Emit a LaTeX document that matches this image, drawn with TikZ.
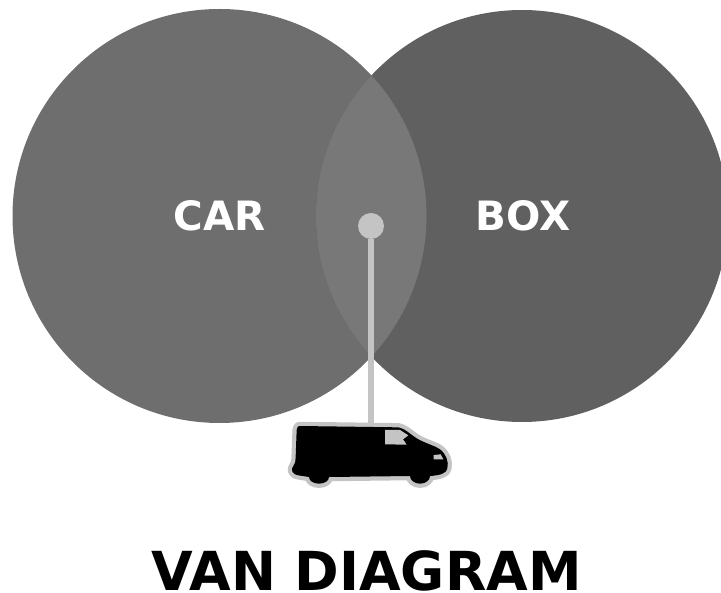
\documentclass[tikz,border=0pt]{standalone}
\usepackage{fontspec}
\setmainfont{DejaVu Sans}
\usepackage{tikz}
\usetikzlibrary{positioning}
\definecolor{carfill}{HTML}{6E6E6E}
\definecolor{boxfill}{HTML}{606060}
\definecolor{overlapfill}{HTML}{787878}
\definecolor{markergray}{HTML}{C4C4C4}

\begin{document}
\begin{tikzpicture}[
    setlabel/.style={font=\fontsize{23}{26}\selectfont\bfseries,text=white,inner sep=0pt},
    titlelabel/.style={font=\fontsize{30.6}{34}\selectfont\bfseries,text=black,inner sep=0pt},
    hubdot/.style={circle,fill=markergray,minimum size=0.52cm,inner sep=0pt},
    stemline/.style={draw=markergray,line width=0.11cm},
    vanhalo/.style={draw=markergray,line width=0.17cm,line join=round},
    vanbody/.style={fill=black},
    vanglass/.style={fill=markergray}
  ]
    \useasboundingbox (0,0) rectangle (14.42,11.86);
    \def\vanoutline{(88,78) -- (385,82) .. controls (402,84) and (420,102) .. (440,115)
      .. controls (465,130) and (490,135) .. (510,148) .. controls (528,162) and (537,185) .. (532,205)
      .. controls (530,220) and (510,226) .. (480,228) arc[start angle=0,end angle=180,x radius=30,y radius=23]
      -- (177,231) arc[start angle=0,end angle=180,x radius=30,y radius=20]
      -- (85,226) .. controls (68,225) and (60,208) .. (70,198) .. controls (76,192) and (76,185) .. (77,170)
      -- (80,90) .. controls (81,82) and (84,78) .. (88,78) -- cycle}

    \fill[carfill] (4.39,7.54) circle[radius=4.14];
    \fill[boxfill] (10.44,7.54) circle[radius=4.12];
    \begin{scope}
      \clip (4.39,7.54) circle[radius=4.14];
      \fill[overlapfill] (10.44,7.54) circle[radius=4.12];
    \end{scope}

    \node[setlabel] (car) at (4.39,7.54) {CAR};
    \node[setlabel] (box) at (10.46,7.54) {BOX};
    \node[titlelabel] (title) at (7.33,0.44) {VAN DIAGRAM};

    \node[hubdot] (hub) at (7.42,7.34) {};
    \coordinate (vantop) at (7.42,3.36);
    \draw[stemline] (hub) -- (vantop);

    \begin{scope}[shift={(5.4,3.86)},x=0.00667cm,y=-0.00667cm]
      \draw[vanhalo] \vanoutline;
      \fill[vanbody] \vanoutline;
      \fill[vanglass] (345,90) -- (390,90) -- (415,106) -- (399,118) -- (410,134) -- (345,133) -- cycle;
      \fill[vanglass] (491,165) -- (512,163) -- (520,178) -- (491,178) -- cycle;
    \end{scope}
  \end{tikzpicture}
\end{document}
